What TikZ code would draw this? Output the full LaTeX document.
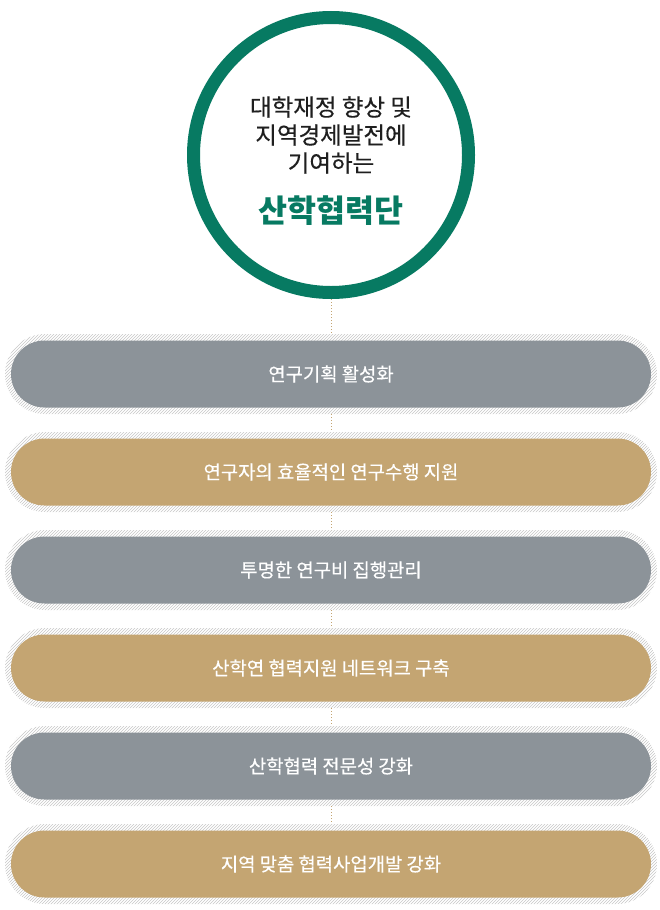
\documentclass[tikz,border=0pt]{standalone}
\usepackage{fontspec}
\setmainfont{Noto Sans CJK KR}
\newfontfamily\medfont{Noto Sans CJK KR}[FakeBold=0.4]
\usepackage{xcolor}
\usetikzlibrary{patterns,shapes.misc}
\definecolor{ugreen}{HTML}{077A62}
\definecolor{ugray}{HTML}{8C9399}
\definecolor{utan}{HTML}{C4A572}

\begin{document}
\begin{tikzpicture}[x=1pt,y=-1pt,
halo/.style={rounded rectangle,draw=none,pattern=north east lines,pattern color=black!22,minimum width=652pt,minimum height=80pt,inner sep=0pt,outer sep=0pt},
pill/.style={rounded rectangle,minimum width=640pt,minimum height=67pt,inner sep=0pt,text=white,font=\medfont\fontsize{18.8}{22}\selectfont},
link/.style={utan,dotted,line width=1pt}]
	\useasboundingbox (0,0) rectangle (660,910);
	%unit circle
	\node[circle,draw=ugreen,line width=13pt,minimum size=275pt,fill=white] at (331,155) (unit) {};
	\node[align=center,text=black!88,font=\medfont\fontsize{23.5}{28}\selectfont] at (331,135) (desc) {대학재정 향상 및\\지역경제발전에\\기여하는};
	\node[text=ugreen,font=\fontsize{31.5}{34}\selectfont\bfseries] at (331,211) (title) {산학협력단};
	%task pills
	\foreach \i/\c/\t in {0/ugray/연구기획 활성화,
	                      1/utan/연구자의 효율적인 연구수행 지원,
	                      2/ugray/투명한 연구비 집행관리,
	                      3/utan/산학연 협력지원 네트워크 구축,
	                      4/ugray/산학협력 전문성 강화,
	                      5/utan/지역 맞춤 협력사업개발 강화}{
		\node[halo] at (331,374+98*\i) (h\i) {};
		\node[pill,fill=\c] at (h\i) (p\i) {\t};
	}
	%links
	\draw[link] (unit.south) -- (h0.north);
	\foreach \i [evaluate=\i as \j using int(\i-1)] in {1,...,5}
		\draw[link] (h\j.south) -- (h\i.north);
\end{tikzpicture}
\end{document}
